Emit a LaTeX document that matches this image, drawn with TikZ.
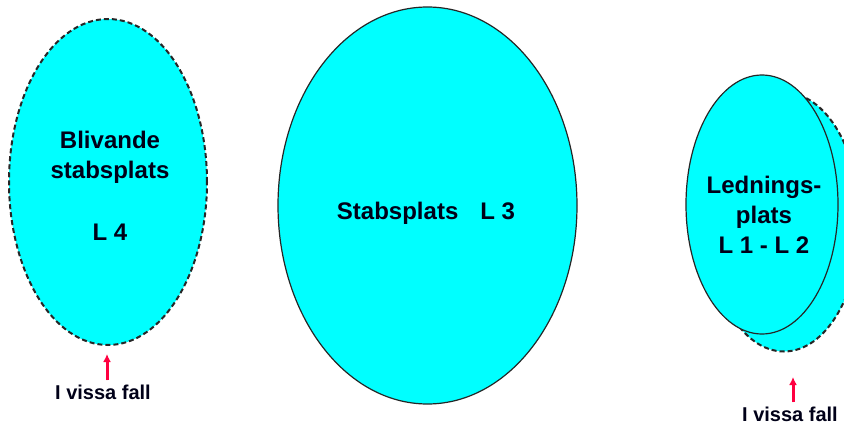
\documentclass[tikz,border=0pt]{standalone}
\usepackage{fontspec}
\setmainfont{Liberation Sans}
\usetikzlibrary{arrows.meta,shapes.geometric}
\definecolor{aqua}{HTML}{00FFFF}
\definecolor{alarm}{HTML}{FF0040}
\definecolor{ink}{HTML}{000018}

\begin{document}
\begin{tikzpicture}[x=1pt,y=-1pt,>={Latex[length=8pt,width=8pt]}]
  \clip (0,0) rectangle (844,428);
  \fill[white] (0,0) rectangle (844,428);
  % ellipses
  \node[ellipse,fill=aqua,draw=black!85,line width=2pt,dash pattern=on 5pt off 3pt,minimum width=198pt,minimum height=326pt] (stay) at (108,182) {};
  \node[ellipse,fill=aqua,draw=black!85,line width=1.2pt,minimum width=299pt,minimum height=397pt] (staff) at (427.5,205.5) {};
  \node[ellipse,fill=aqua,draw=black!85,line width=2pt,dash pattern=on 5pt off 3pt,minimum width=152pt,minimum height=259pt] (ledback) at (784,222) {};
  \node[ellipse,fill=aqua,draw=black!85,line width=1.2pt,minimum width=152pt,minimum height=259pt] (led) at (762,204.5) {};
  % texts
  \node[font=\bfseries\fontsize{24}{30}\selectfont,text=ink,align=center,inner sep=0pt] (staytxt) at (110,186) {Blivande\\stabsplats\\[32pt]L 4};
  \node[font=\bfseries\fontsize{24}{30}\selectfont,text=ink,inner sep=0pt] (stafftxt) at (426,213) {Stabsplats\hspace{22pt}L 3};
  \node[font=\bfseries\fontsize{24}{30}\selectfont,text=ink,align=center,inner sep=0pt] (ledtxt) at (764,215) {Lednings-\\plats\\L 1 - L 2};
  % notes
  \node[font=\bfseries\fontsize{20}{24}\selectfont,text=ink,inner sep=1pt] (fallL) at (103,392) {I vissa fall};
  \node[font=\bfseries\fontsize{20}{24}\selectfont,text=ink,inner sep=1pt] (fallR) at (790,414) {I vissa fall};
  \coordinate (tipL) at (107,354);
  \coordinate (tipR) at (793,377);
  \draw[->,line width=3pt,draw=alarm,fill=alarm,shorten <=3pt] (fallL.north -| tipL) -- (tipL);
  \draw[->,line width=3pt,draw=alarm,fill=alarm,shorten <=3pt] (fallR.north -| tipR) -- (tipR);
\end{tikzpicture}
\end{document}
